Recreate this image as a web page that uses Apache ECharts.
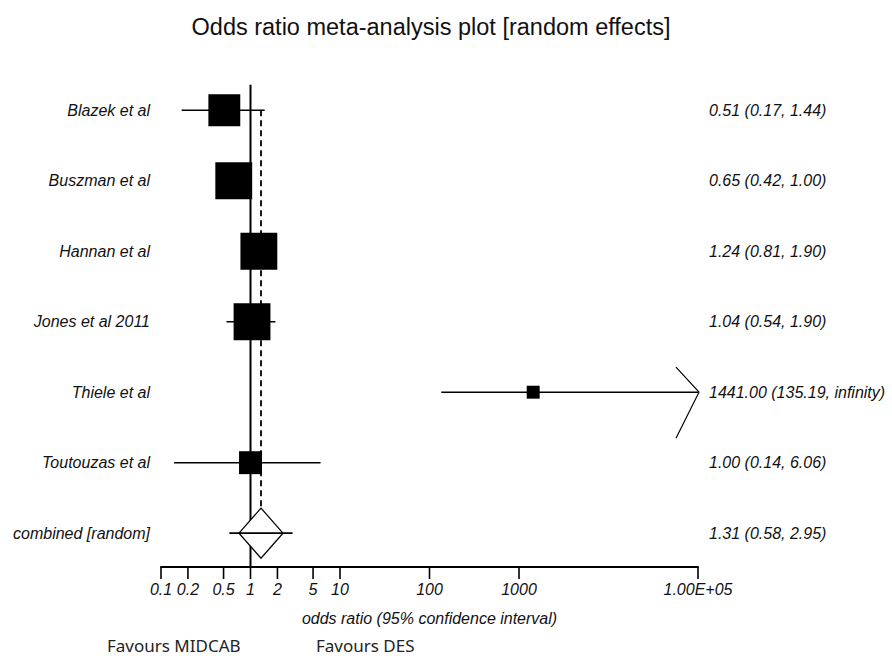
<!DOCTYPE html>
<html><head><meta charset="utf-8">
<script src="https://cdn.jsdelivr.net/npm/echarts@6/dist/echarts.min.js"></script>
<style>html,body{margin:0;padding:0;background:#fff}#c{width:892px;height:656px}</style>
</head><body><div id="c"></div>
<script>
// ---- data ----
const studies = ["Blazek et al", "Buszman et al", "Hannan et al", "Jones et al 2011", "Thiele et al", "Toutouzas et al"];
const oddsRatio = [0.51, 0.65, 1.24, 1.04, 1441.00, 1.00];
const ciLower = [0.17, 0.42, 0.81, 0.54, 135.19, 0.14];
const ciUpper = [1.44, 1.00, 1.90, 1.90, Infinity, 6.06];
const weights = [17.6, 23.5, 23.5, 23.5, 2.9, 9.1];
const pooledLabel = "combined [random]";
const pooledOR = 1.31;
const pooledLower = 0.58;
const pooledUpper = 2.95;
const tickValues = [0.1, 0.2, 0.5, 1, 2, 5, 10, 100, 1000, 100000];
const tickLabels = ["0.1", "0.2", "0.5", "1", "2", "5", "10", "100", "1000", "1.00E+05"];
const nullValue = 1;

// ---- layout constants ----
const X_MIN = 0.1, X_MAX = 100000;
const Y_MIN = -0.5, Y_MAX = 6.48;
const LINE_TOP = -0.36;
const TXT = '#111';
const FONT_I = 'italic 16px "Liberation Sans", Arial, sans-serif';

function fmt(v) { return isFinite(v) ? v.toFixed(2) : 'infinity'; }

const chart = echarts.init(document.getElementById('c'), null, { renderer: 'svg' });

function renderRefs(params, api) {
  const top = api.coord([nullValue, LINE_TOP]);
  const bot = api.coord([nullValue, Y_MAX]);
  const pTop = api.coord([pooledOR, 0]);
  const pBot = api.coord([pooledOR, studies.length]);
  return {
    type: 'group', children: [
      { type: 'line', shape: { x1: top[0], y1: top[1], x2: bot[0], y2: bot[1] }, style: { stroke: '#000', lineWidth: 2 } },
      { type: 'line', shape: { x1: pTop[0], y1: pTop[1], x2: pBot[0], y2: pBot[1] - 26 }, style: { stroke: '#000', lineWidth: 1.8, lineDash: [6, 4] } }
    ]
  };
}

function renderTicks(params, api) {
  const i = params.dataIndex;
  const p = api.coord([tickValues[i], Y_MAX]);
  return {
    type: 'group', children: [
      { type: 'line', shape: { x1: p[0], y1: p[1], x2: p[0], y2: p[1] + 12 }, style: { stroke: '#000', lineWidth: 1.6 } },
      { type: 'text', style: { text: tickLabels[i], x: p[0], y: p[1] + 14, align: 'center', verticalAlign: 'top', font: FONT_I, fill: TXT } }
    ]
  };
}

function renderStudy(params, api) {
  const i = params.dataIndex;
  const c = api.coord([oddsRatio[i], i]);
  const xl = api.coord([X_MIN, i])[0];
  const xr = api.coord([X_MAX, i])[0];
  const lo = api.coord([ciLower[i], i])[0];
  const inf = !isFinite(ciUpper[i]);
  const hi = inf ? xr : api.coord([ciUpper[i], i])[0];
  const s = 7.6 * Math.sqrt(weights[i]);
  const children = [
    { type: 'line', shape: { x1: lo, y1: c[1], x2: hi, y2: c[1] }, style: { stroke: '#000', lineWidth: 1.6 } },
    { type: 'rect', shape: { x: c[0] - s / 2, y: c[1] - s / 2, width: s, height: s }, style: { fill: '#000' } },
    { type: 'text', style: { text: studies[i], x: xl - 11, y: c[1], align: 'right', verticalAlign: 'middle', font: FONT_I, fill: TXT } },
    { type: 'text', style: { text: fmt(oddsRatio[i]) + ' (' + fmt(ciLower[i]) + ', ' + fmt(ciUpper[i]) + ')', x: xr + 11, y: c[1], align: 'left', verticalAlign: 'middle', font: FONT_I, fill: TXT } }
  ];
  if (inf) {
    children.push({ type: 'polyline', shape: { points: [[hi - 22, c[1] - 25], [hi + 1, c[1]], [hi - 22, c[1] + 46]] }, style: { stroke: '#000', fill: null, lineWidth: 1.2 } });
  }
  return { type: 'group', children };
}

function renderPooled(params, api) {
  const row = studies.length;
  const c = api.coord([pooledOR, row]);
  const xl = api.coord([X_MIN, row])[0];
  const xr = api.coord([X_MAX, row])[0];
  const lo = api.coord([pooledLower, row])[0];
  const hi = api.coord([pooledUpper, row])[0];
  const hw = 22, hh = 25;
  return {
    type: 'group', children: [
      { type: 'polygon', shape: { points: [[c[0], c[1] - hh], [c[0] + hw, c[1]], [c[0], c[1] + hh], [c[0] - hw, c[1]]] }, style: { fill: '#fff', stroke: '#000', lineWidth: 1.3 } },
      { type: 'line', shape: { x1: lo, y1: c[1], x2: hi, y2: c[1] }, style: { stroke: '#000', lineWidth: 1.6 } },
      { type: 'text', style: { text: pooledLabel, x: xl - 11, y: c[1], align: 'right', verticalAlign: 'middle', font: FONT_I, fill: TXT } },
      { type: 'text', style: { text: fmt(pooledOR) + ' (' + fmt(pooledLower) + ', ' + fmt(pooledUpper) + ')', x: xr + 11, y: c[1], align: 'left', verticalAlign: 'middle', font: FONT_I, fill: TXT } }
    ]
  };
}

const option = {
  backgroundColor: '#fff',
  animation: false,
  title: {
    text: 'Odds ratio meta-analysis plot [random effects]',
    left: 426, top: 10, textAlign: 'center',
    textStyle: { fontFamily: '"Liberation Sans Narrow", "Liberation Sans", Arial', fontSize: 23.5, fontWeight: 'normal', color: TXT }
  },
  grid: { left: 161, right: 194, top: 75, bottom: 89 },
  xAxis: {
    type: 'log', logBase: 10, min: X_MIN, max: X_MAX, position: 'bottom',
    axisLine: { show: true, onZero: false, lineStyle: { color: '#000', width: 2 } },
    axisTick: { show: false }, axisLabel: { show: false }, splitLine: { show: false },
    name: 'odds ratio (95% confidence interval)', nameLocation: 'middle', nameGap: 43,
    nameTextStyle: { fontStyle: 'italic', fontSize: 16, fontFamily: '"Liberation Sans", Arial', color: TXT }
  },
  yAxis: { type: 'value', inverse: true, min: Y_MIN, max: Y_MAX, show: false },
  graphic: [
    { type: 'text', left: 107, top: 637, style: { text: 'Favours MIDCAB', font: '17px "Noto Sans", sans-serif', fill: '#222' } },
    { type: 'text', left: 316, top: 637, style: { text: 'Favours DES', font: '17px "Noto Sans", sans-serif', fill: '#222' } }
  ],
  series: [
    { type: 'custom', renderItem: renderRefs, data: [[nullValue, 0]], clip: false, silent: true },
    { type: 'custom', renderItem: renderTicks, data: tickValues.map((v) => [v, Y_MAX]), clip: false, silent: true },
    { type: 'custom', renderItem: renderStudy, data: oddsRatio.map((v, i) => [v, i]), clip: false, silent: true },
    { type: 'custom', renderItem: renderPooled, data: [[pooledOR, studies.length]], clip: false, silent: true }
  ]
};
chart.setOption(option);
</script>
</body></html>
